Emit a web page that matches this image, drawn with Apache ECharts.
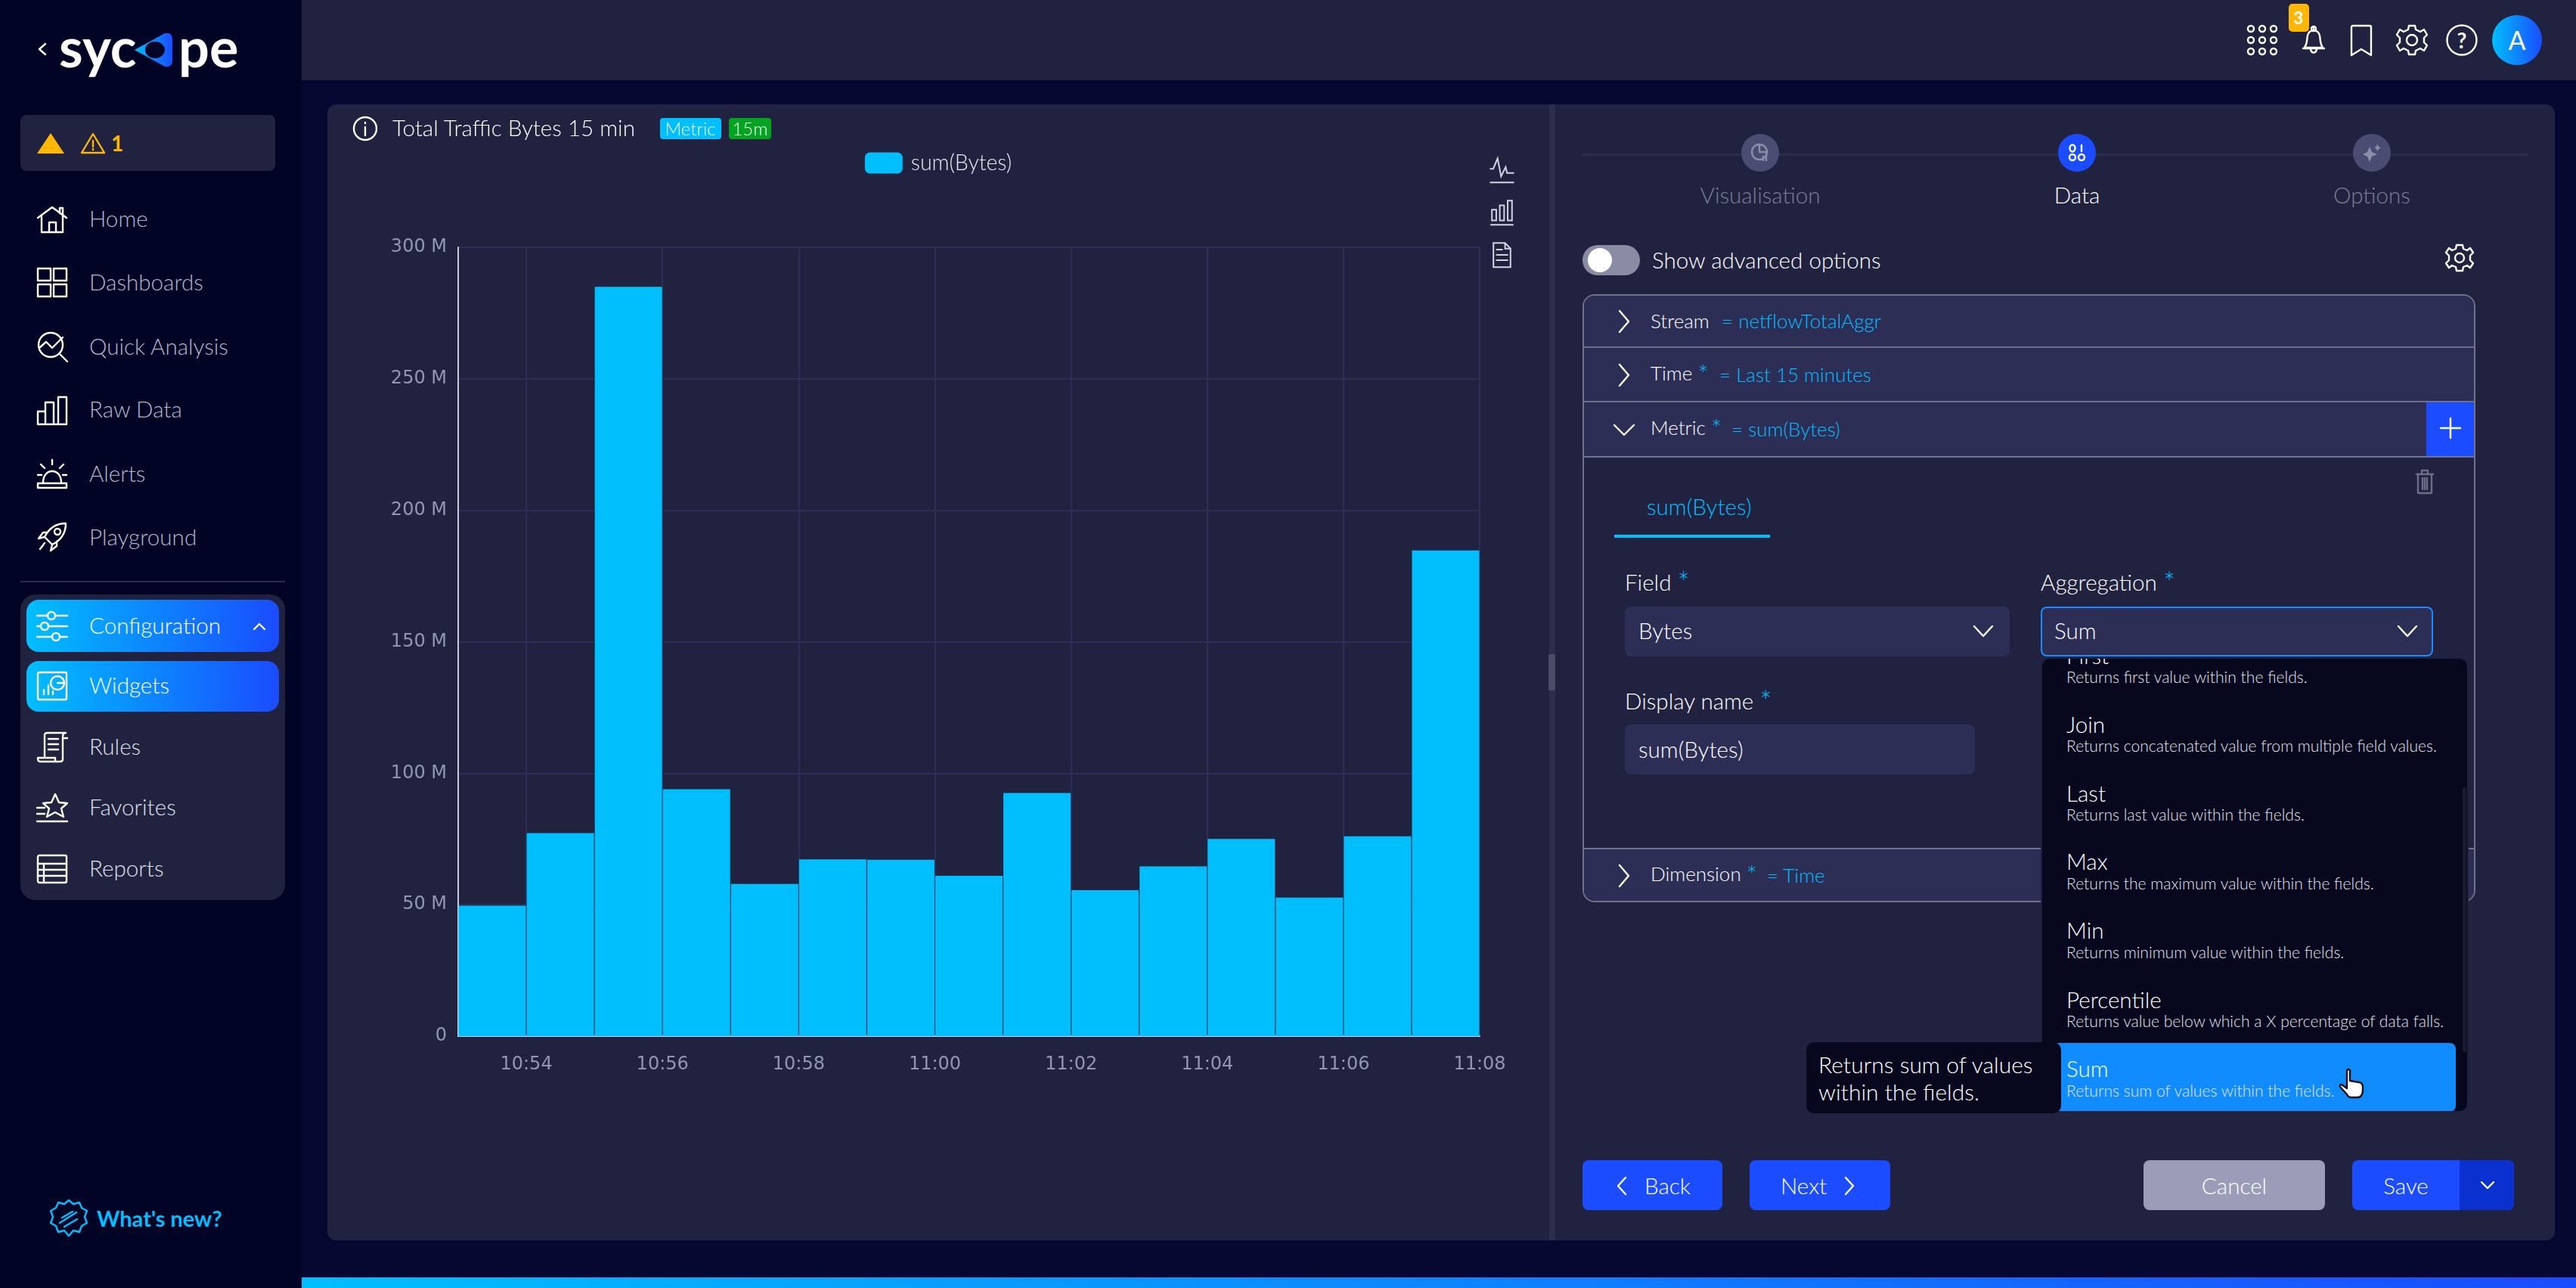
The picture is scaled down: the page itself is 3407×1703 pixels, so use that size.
<!DOCTYPE html>
<html>
<head>
<meta charset="utf-8">
<title>Widget</title>
<script src="https://cdn.jsdelivr.net/npm/echarts@6/dist/echarts.min.js"></script>
<style>
  * { box-sizing: border-box; }
  html, body { margin: 0; width: 3407px; height: 1703px; overflow: hidden; background: #060832; font-family: Lato, sans-serif; color: #fff; }
  .box { position: absolute; }
  .t { position: absolute; white-space: nowrap; transform: translateY(calc(-50% - 1px)); line-height: 1; }
  .c { transform: translate(-50%, calc(-50% - 1px)); }
  .blue { color: #00bfff; }
  .star { color: #00bfff; font-size: 1.3em; font-weight: 300; vertical-align: -4px; }
  .nav { font-size: 29.6px; color: #b4b6cc; font-weight: 300; }
  .hl { font-size: 26px; font-weight: 300; }
  .lbl { font-size: 29.6px; font-weight: 300; }
  .opt { font-size: 29.6px; font-weight: 300; }
  .sub { font-size: 21.1px; color: #e4e5ee; font-weight: 300; }
  .grad { background: linear-gradient(90deg, #00bfff, #1a4cff); }
  svg { position: absolute; fill: none; stroke: #fff; stroke-width: 2.4; stroke-linejoin: round; stroke-linecap: round; overflow: visible; }
</style>
</head>
<body>
<!-- sidebar -->
<div class="box" style="left:0;top:0;width:399px;height:1703px;background:#020425"></div>
<svg style="left:50px;top:56px" width="12" height="18" stroke-width="3"><path d="M10 2L2 9L10 16"/></svg>
<div class="t" style="left:78px;top:62px;font-size:72px;font-weight:700">syc</div>
<div class="box" style="left:178px;top:40px;width:50px;height:50px;">
  <svg width="50" height="50" style="left:0;top:0;stroke:none"><defs><linearGradient id="lg"><stop offset="0" stop-color="#00bfff"/><stop offset="1" stop-color="#1a4cff"/></linearGradient></defs><path fill="url(#lg)" d="M0 26L40 4Q50 2 50 12V40Q50 50 40 48Z"/><ellipse cx="27" cy="26" rx="13" ry="11" fill="#020425"/></svg>
</div>
<div class="t" style="left:236px;top:62px;font-size:72px;font-weight:700">pe</div>

<div class="box" style="left:27px;top:152px;width:337px;height:74px;background:#20223f;border-radius:8px"></div>
<svg style="left:49px;top:176px" width="36" height="27" stroke="none"><path d="M18 0L36 27H0Z" fill="#ffb703" stroke="none"/></svg>
<svg style="left:107px;top:176px;stroke:#ffb703" width="32" height="27"><path d="M16 1L31 26H1Z"/><path d="M16 10V18M16 21V22"/></svg>
<div class="t" style="left:147px;top:190px;font-size:28px;font-weight:700;color:#ffb703">1</div>

<svg style="left:49px;top:272px" width="40" height="36"><path d="M1 16L20 2L39 16M6 13V35H34V13M16 35V22H25V35M30 10V3H34V13"/></svg>
<div class="t nav" style="left:118px;top:290px">Home</div>
<svg style="left:49px;top:354px" width="40" height="40"><rect x="1" y="1" width="17" height="16" /><rect x="22" y="1" width="17" height="16"/><rect x="1" y="22" width="17" height="16"/><rect x="22" y="22" width="17" height="16"/></svg>
<div class="t nav" style="left:118px;top:374px">Dashboards</div>
<svg style="left:49px;top:438px" width="40" height="40"><circle cx="18" cy="18" r="16"/><path d="M30 30L40 40M3 22L12 14L20 22L34 8"/></svg>
<div class="t nav" style="left:118px;top:459px">Quick Analysis</div>
<svg style="left:49px;top:522px" width="40" height="40"><path d="M1 39V22H11V39M11 39V10H22V39M28 39V3H39V39M1 39H39M22 39V10M28 39H22"/></svg>
<div class="t nav" style="left:118px;top:542px">Raw Data</div>
<svg style="left:49px;top:606px" width="40" height="40"><path d="M8 32C8 12 32 12 32 32M1 33H39V39H1ZM20 2V8M5 8L10 13M35 8L30 13M1 22H6M34 22H39"/></svg>
<div class="t nav" style="left:118px;top:627px">Alerts</div>
<svg style="left:49px;top:690px" width="40" height="40"><path d="M38 2C26 2 16 8 10 20L20 30C32 24 38 14 38 2ZM10 20L2 22L8 14L14 14M20 30L18 38L26 32V26M10 28L4 36"/><circle cx="27" cy="13" r="4"/></svg>
<div class="t nav" style="left:118px;top:711px">Playground</div>

<div class="box" style="left:27px;top:768px;width:350px;height:2px;background:#2b2d50"></div>
<div class="box" style="left:27px;top:786px;width:350px;height:404px;background:#20223f;border-radius:20px"></div>
<div class="box grad" style="left:35px;top:793px;width:334px;height:69px;border-radius:16px"></div>
<div class="box grad" style="left:35px;top:874px;width:334px;height:67px;border-radius:16px"></div>
<svg style="left:49px;top:808px" width="40" height="40"><path d="M0 6H14M24 6H40M0 20H5M15 20H40M0 34H20M30 34H40"/><circle cx="19" cy="6" r="5"/><circle cx="10" cy="20" r="5"/><circle cx="25" cy="34" r="5"/></svg>
<div class="t nav" style="left:118px;top:828px;color:#fff">Configuration</div>
<svg style="left:335px;top:823px" width="16" height="10" stroke-width="3"><path d="M1 9L8 2L15 9"/></svg>
<svg style="left:49px;top:888px" width="40" height="38"><rect x="1" y="1" width="38" height="36" rx="2"/><path d="M9 30V24M15 30V18M21 30V26"/><circle cx="27" cy="15" r="9"/><path d="M27 15L36 15"/></svg>
<div class="t nav" style="left:118px;top:907px;color:#fff">Widgets</div>
<svg style="left:49px;top:968px" width="40" height="40"><path d="M10 32V4Q10 1 14 1H38Q34 1 34 6V36Q34 39 30 39H4Q1 39 1 34H24V38M15 9H28M15 16H28M15 23H28M34 8H40"/></svg>
<div class="t nav" style="left:118px;top:988px;color:#dfe0ea">Rules</div>
<svg style="left:49px;top:1048px" width="40" height="40"><path d="M24 2L29 13L40 14L32 21L35 32L24 26L13 32L16 21L8 14L19 13ZM0 20H10M0 28H10M0 38H40"/></svg>
<div class="t nav" style="left:118px;top:1068px;color:#dfe0ea">Favorites</div>
<svg style="left:49px;top:1130px" width="40" height="38"><rect x="1" y="1" width="38" height="36" rx="2"/><path d="M1 12H39M1 20H39M1 28H39M9 12V37"/></svg>
<div class="t nav" style="left:118px;top:1149px;color:#dfe0ea">Reports</div>

<svg style="left:66px;top:1586px;stroke:#00bfff" width="50" height="50"><path d="M25 1L31 6L39 4L42 11L49 15L46 23L49 31L42 35L39 43L31 41L25 48L19 41L11 43L8 35L1 31L4 23L1 15L8 11L11 4L19 6Z"/><path d="M13 31L35 17M16 24L30 16M19 36L36 26"/></svg>
<div class="t" style="left:128px;top:1611px;font-size:29px;font-weight:700;color:#00bfff">What's new?</div>

<!-- top bar -->
<div class="box" style="left:399px;top:0;width:3008px;height:106px;background:#20223f"></div>
<svg style="left:2973px;top:34px" width="40" height="40"><g id="dots"><circle cx="4" cy="4" r="4"/><circle cx="19" cy="4" r="4"/><circle cx="34" cy="4" r="4"/><circle cx="4" cy="19" r="4"/><circle cx="19" cy="19" r="4"/><circle cx="34" cy="19" r="4"/><circle cx="4" cy="34" r="4"/><circle cx="19" cy="34" r="4"/><circle cx="34" cy="34" r="4"/></g></svg>
<svg style="left:3045px;top:35px" width="30" height="36"><path d="M15 1V5M3 28C7 22 6 16 7 12C9 3 21 3 23 12C24 16 23 22 27 28ZM1 29H29M11 30C12 36 18 36 19 30"/><circle cx="15" cy="3" r="3"/></svg>
<div class="box" style="left:3027px;top:5px;width:27px;height:37px;background:#ffb703;border-radius:5px"></div>
<div class="t c" style="left:3040px;top:25px;font-size:22px;font-weight:700">3</div>
<svg style="left:3108px;top:33px" width="30" height="40"><path d="M2 40V3Q2 1 4 1H26Q28 1 28 3V40L15 32Z"/></svg>
<svg style="left:3170px;top:33px" width="40" height="40"><path d="M16 1H24L25 6L31 9L36 6L40 13L36 17V23L40 27L36 34L31 31L25 34L24 39H16L15 34L9 31L4 34L0 27L4 23V17L0 13L4 6L9 9L15 6Z"/><circle cx="20" cy="20" r="7"/></svg>
<svg style="left:3236px;top:33px" width="40" height="40"><circle cx="20" cy="20" r="19.5"/></svg>
<div class="t c" style="left:3256px;top:54px;font-size:28px;font-weight:700">?</div>
<div class="box" style="left:3296px;top:20px;width:66px;height:66px;border-radius:50%;background:linear-gradient(90deg,#00bfff,#1a4cff)"></div>
<div class="t c" style="left:3329px;top:54px;font-size:34px">A</div>

<!-- panels -->
<div class="box" style="left:433px;top:138px;width:1616px;height:1502px;background:#20223f;border-radius:12px 0 0 12px"></div>
<div class="box" style="left:2049px;top:138px;width:8px;height:1502px;background:#2d2e4c"></div>
<div class="box" style="left:2048px;top:865px;width:9px;height:48px;background:#4a4c68;border-radius:2px"></div>
<div class="box" style="left:2057px;top:138px;width:1322px;height:1502px;background:#20223f;border-radius:0 12px 12px 0"></div>

<div id="chart" class="box" style="left:433px;top:138px;width:1616px;height:1502px"></div>

<svg style="left:467px;top:154px" width="32" height="32"><circle cx="16" cy="16" r="15"/><path d="M16 14V25M16 8V9"/></svg>
<div class="t" style="left:519px;top:170px;font-size:29.6px;font-weight:300">Total Traffic Bytes 15 min</div>
<div class="box" style="left:873px;top:156px;width:81px;height:28px;background:#00bfff;border-radius:4px"></div>
<div class="t c" style="left:913px;top:171px;font-size:24px;font-weight:300">Metric</div>
<div class="box" style="left:964px;top:156px;width:56px;height:28px;background:#03a41f;border-radius:4px"></div>
<div class="t c" style="left:992px;top:171px;font-size:24px;font-weight:300">15m</div>

<!-- stepper -->
<div class="box" style="left:2093px;top:203px;width:1250px;height:3px;background:#2b2d4a"></div>
<div class="box" style="left:2303px;top:177px;width:50px;height:50px;border-radius:50%;background:#4a4c72"></div>
<div class="box" style="left:2722px;top:177px;width:50px;height:50px;border-radius:50%;background:#1c4cff"></div>
<div class="box" style="left:3112px;top:177px;width:50px;height:50px;border-radius:50%;background:#4a4c72"></div>
<svg style="left:2316px;top:190px;stroke:#8c8ea8" width="24" height="24" stroke-width="1.6"><circle cx="11" cy="11" r="10"/><path d="M11 11V1M11 11H21M16 22V17M20 22V14"/></svg>
<svg style="left:2735px;top:190px" width="24" height="24" stroke-width="2"><ellipse cx="6" cy="6" rx="3.5" ry="4.5"/><path d="M18 2V10"/><circle cx="6" cy="18" r="4"/><circle cx="18" cy="18" r="4"/></svg>
<svg style="left:3125px;top:190px;fill:#8c8ea8;stroke:none" width="24" height="24"><path d="M9 4L12 11L19 14L12 17L9 24L6 17L0 14L6 11ZM19 0L21 4L24 5L21 7L19 10L18 7L15 5L18 4Z"/></svg>
<div class="t c lbl" style="left:2328px;top:259px;color:#7b7e96">Visualisation</div>
<div class="t c lbl" style="left:2747px;top:259px">Data</div>
<div class="t c lbl" style="left:3137px;top:259px;color:#7b7e96">Options</div>

<div class="box" style="left:2093px;top:324px;width:76px;height:40px;border-radius:20px;background:#8a8ca3"></div>
<div class="box" style="left:2100px;top:328px;width:32px;height:32px;border-radius:50%;background:#fff"></div>
<div class="t lbl" style="left:2185px;top:345px">Show advanced options</div>
<svg style="left:3235px;top:323px" width="36" height="36" stroke-width="2"><path d="M14 1H22L23 6L28 8L32 5L36 11L32 15V21L36 25L32 31L28 28L23 30L22 35H14L13 30L8 28L4 31L0 25L4 21V15L0 11L4 5L8 8L13 6Z"/><circle cx="18" cy="18" r="6"/></svg>

<!-- accordion -->
<div class="box" style="left:2093px;top:389px;width:1181px;height:804px;border:2px solid #70728a;border-radius:16px;overflow:hidden">
  <div class="box" style="left:0;top:0;width:100%;height:69px;background:#2c2e56;border-bottom:2px solid #70728a"></div>
  <div class="box" style="left:0;top:69px;width:100%;height:72px;background:#2c2e56;border-bottom:2px solid #70728a"></div>
  <div class="box" style="left:0;top:141px;width:100%;height:73px;background:#2c2e56;border-bottom:2px solid #70728a"></div>
  <div class="box" style="left:1114px;top:141px;width:65px;height:71px;background:#1c4cff"></div>
  <div class="box" style="left:0;top:730px;width:100%;height:72px;background:#2c2e56;border-top:2px solid #70728a"></div>
</div>
<svg style="left:2140px;top:410px" width="16" height="30" stroke-width="3.4"><path d="M2 1L14 15L2 29"/></svg>
<div class="t hl" style="left:2183px;top:425px">Stream</div>
<div class="t hl blue" style="left:2277px;top:425px">= netflowTotalAggr</div>
<svg style="left:2140px;top:481px" width="16" height="30" stroke-width="3.4"><path d="M2 1L14 15L2 29"/></svg>
<div class="t hl" style="left:2183px;top:496px">Time <span class="star">*</span></div>
<div class="t hl blue" style="left:2274px;top:496px">= Last 15 minutes</div>
<svg style="left:2134px;top:560px" width="28" height="16" stroke-width="3.4"><path d="M1 2L14 15L27 2"/></svg>
<div class="t hl" style="left:2183px;top:568px">Metric <span class="star">*</span></div>
<div class="t hl blue" style="left:2290px;top:568px">= sum(Bytes)</div>
<svg style="left:3228px;top:553px" width="26" height="26" stroke-width="2.6"><path d="M13 0V26M0 13H26"/></svg>
<svg style="left:3195px;top:621px;stroke:#6c6e88" width="24" height="32" stroke-width="2"><path d="M1 6H23M8 6V1H16V6M3 6V30Q3 31 4 31H20Q21 31 21 30V6M9 11V26M12 11V26M15 11V26"/></svg>
<div class="t lbl blue" style="left:2178px;top:671px">sum(Bytes)</div>
<div class="box" style="left:2135px;top:707px;width:206px;height:4px;background:#00bfff"></div>

<div class="t lbl" style="left:2149px;top:771px">Field <span class="star">*</span></div>
<div class="box" style="left:2149px;top:802px;width:509px;height:66px;background:#2c2e56;border-radius:8px"></div>
<div class="t lbl" style="left:2167px;top:835px">Bytes</div>
<svg style="left:2610px;top:827px" width="26" height="15" stroke-width="3"><path d="M1 1L13 14L25 1"/></svg>
<div class="t lbl" style="left:2699px;top:771px">Aggregation <span class="star">*</span></div>
<div class="box" style="left:2699px;top:802px;width:519px;height:66px;background:#2c2e56;border:2px solid #1a8cff;border-radius:8px"></div>
<div class="t lbl" style="left:2717px;top:835px">Sum</div>
<svg style="left:3171px;top:827px" width="26" height="15" stroke-width="3"><path d="M1 1L13 14L25 1"/></svg>

<div class="t lbl" style="left:2149px;top:928px">Display name <span class="star">*</span></div>
<div class="box" style="left:2149px;top:958px;width:463px;height:66px;background:#2c2e56;border-radius:8px"></div>
<div class="t lbl" style="left:2167px;top:992px">sum(Bytes)</div>

<svg style="left:2140px;top:1143px" width="16" height="30" stroke-width="3.4"><path d="M2 1L14 15L2 29"/></svg>
<div class="t hl" style="left:2183px;top:1158px">Dimension <span class="star">*</span></div>
<div class="t hl blue" style="left:2337px;top:1158px">= Time</div>

<!-- dropdown -->
<div class="box" style="left:2699px;top:869px;width:566px;height:602px;background:#07071e;border:2px solid #1e2040;border-radius:12px;overflow:hidden">
  <div class="t opt" style="left:32px;top:-3px">First</div>
  <div class="box" style="left:556px;top:170px;width:5px;height:350px;background:#1a1b30;border-radius:3px"></div>
  <div class="box" style="left:18px;top:508px;width:529px;height:91px;background:#118cff;border-radius:0 8px 8px 0"></div>
</div>
<div class="t sub" style="left:2733px;top:896px">Returns first value within the fields.</div>
<div class="t opt" style="left:2733px;top:959px">Join</div>
<div class="t sub" style="left:2733px;top:987px">Returns concatenated value from multiple field values.</div>
<div class="t opt" style="left:2733px;top:1050px">Last</div>
<div class="t sub" style="left:2733px;top:1078px">Returns last value within the fields.</div>
<div class="t opt" style="left:2733px;top:1140px">Max</div>
<div class="t sub" style="left:2733px;top:1169px">Returns the maximum value within the fields.</div>
<div class="t opt" style="left:2733px;top:1231px">Min</div>
<div class="t sub" style="left:2733px;top:1260px">Returns minimum value within the fields.</div>
<div class="t opt" style="left:2733px;top:1323px">Percentile</div>
<div class="t sub" style="left:2733px;top:1351px">Returns value below which a X percentage of data falls.</div>
<div class="t opt" style="left:2733px;top:1414px">Sum</div>
<div class="t sub" style="left:2733px;top:1443px">Returns sum of values within the fields.</div>
<svg style="left:3093px;top:1413px;fill:#fff;stroke:#111" width="34" height="40" stroke-width="2"><path d="M11 2Q13 0 15 2V16L27 18Q32 19 32 24V30Q31 38 25 38H16Q13 38 11 34L2 24Q1 21 4 21L11 26Z"/></svg>

<div class="box" style="left:2389px;top:1378px;width:337px;height:94px;background:#07071e;border-radius:10px"></div>
<div class="t" style="left:2405px;top:1408px;font-size:30px;font-weight:300">Returns sum of values</div>
<div class="t" style="left:2405px;top:1444px;font-size:30px;font-weight:300">within the fields.</div>

<!-- buttons -->
<div class="box" style="left:2093px;top:1534px;width:185px;height:66px;background:#1c4cff;border-radius:8px"></div>
<svg style="left:2138px;top:1556px" width="14" height="24" stroke-width="3"><path d="M12 1L2 12L12 23"/></svg>
<div class="t lbl" style="left:2175px;top:1569px">Back</div>
<div class="box" style="left:2314px;top:1534px;width:186px;height:66px;background:#1c4cff;border-radius:8px"></div>
<div class="t lbl" style="left:2355px;top:1569px">Next</div>
<svg style="left:2439px;top:1556px" width="14" height="24" stroke-width="3"><path d="M2 1L12 12L2 23"/></svg>
<div class="box" style="left:2835px;top:1534px;width:240px;height:66px;background:#9a9cb8;border-radius:8px"></div>
<div class="t c lbl" style="left:2955px;top:1569px">Cancel</div>
<div class="box" style="left:3111px;top:1534px;width:214px;height:66px;background:#1c4cff;border-radius:8px;overflow:hidden"><div class="box" style="left:142px;top:0;width:72px;height:66px;background:#0a30d0"></div></div>
<div class="t c lbl" style="left:3182px;top:1569px">Save</div>
<svg style="left:3281px;top:1562px" width="18" height="10" stroke-width="2.6"><path d="M1 1L9 9L17 1"/></svg>

<div class="box" style="left:399px;top:1689px;width:3008px;height:14px;background:linear-gradient(90deg,#00bfff,#1a4cff)"></div>

<script>
// one bucket per minute, the bars fill the band between two minute marks
const timeBuckets = ['10:53', '10:54', '10:55', '10:56', '10:57', '10:58', '10:59', '11:00',
  '11:01', '11:02', '11:03', '11:04', '11:05', '11:06', '11:07'];
const sumBytes = [49.6, 77.2, 285, 93.9, 57.9, 67.2, 67.1, 61, 92.5, 55.5, 64.6, 75, 52.7, 76, 184.7].map(v => v * 1e6);
const seriesName = 'sum(Bytes)';
const xMin = '10:53:00';
const xMax = '11:08:00';
const yMax = 300e6;
const yStep = 50e6;

const toTime = (hms) => new Date('2023-03-14T' + hms).getTime();

const formatBytes = (value) => {
  return value === 0 ? '0' : (value / 1e6) + ' M';
};

const options = {
  animation: false,
  legend: {
    data: [seriesName],
    top: 63,
    left: 'center',
    padding: 0,
    icon: 'roundRect',
    itemWidth: 50,
    itemHeight: 28,
    itemGap: 10,
    textStyle: { color: '#e8e9f0', fontFamily: 'Lato', fontWeight: 300, fontSize: 28.5, padding: [0, 0, 4, 6] },
  },
  toolbox: {
    orient: 'vertical',
    left: 1535,
    top: 69,
    padding: 0,
    itemSize: 32,
    itemGap: 19,
    iconStyle: { borderColor: '#d2d4e2', borderWidth: 2 },
    feature: {
      magicType: { type: ['line', 'bar'] },
      dataView: {},
    },
  },
  grid: { left: 173, right: 92, top: 189, bottom: 270 },
  xAxis: [
    {
      // carries the bars
      type: 'category',
      data: timeBuckets,
      position: 'bottom',
      axisLine: { lineStyle: { color: '#c9cbd9', width: 2 } },
      axisTick: { show: false },
      axisLabel: { show: false },
      splitLine: { show: false },
    },
    {
      // carries the minute labels and the grid lines, which sit on the bar edges
      type: 'time',
      position: 'bottom',
      min: toTime(xMin),
      max: toTime(xMax),
      splitNumber: 5,
      axisLine: { show: false },
      axisTick: { show: false },
      axisLabel: {
        color: '#9296b5',
        fontFamily: 'DejaVu Sans',
        fontSize: 24,
        margin: 26,
        showMinLabel: false,
        hideOverlap: false,
        formatter: '{HH}:{mm}',
      },
      splitLine: { show: true, lineStyle: { color: '#2c2e57', width: 2 } },
    },
  ],
  yAxis: {
    type: 'value',
    min: 0,
    max: yMax,
    interval: yStep,
    axisLine: { show: true, lineStyle: { color: '#c9cbd9', width: 2 } },
    axisTick: { show: false },
    axisLabel: { color: '#9296b5', fontFamily: 'DejaVu Sans', fontSize: 24, margin: 15, formatter: formatBytes },
    splitLine: { lineStyle: { color: '#2c2e57', width: 2 } },
  },
  series: [
    {
      name: seriesName,
      type: 'bar',
      xAxisIndex: 0,
      barWidth: 89,
      itemStyle: { color: '#00bffc' },
      data: sumBytes,
    },
  ],
};

const chart = echarts.init(document.getElementById('chart'));
chart.setOption(options);
</script>
</body>
</html>
